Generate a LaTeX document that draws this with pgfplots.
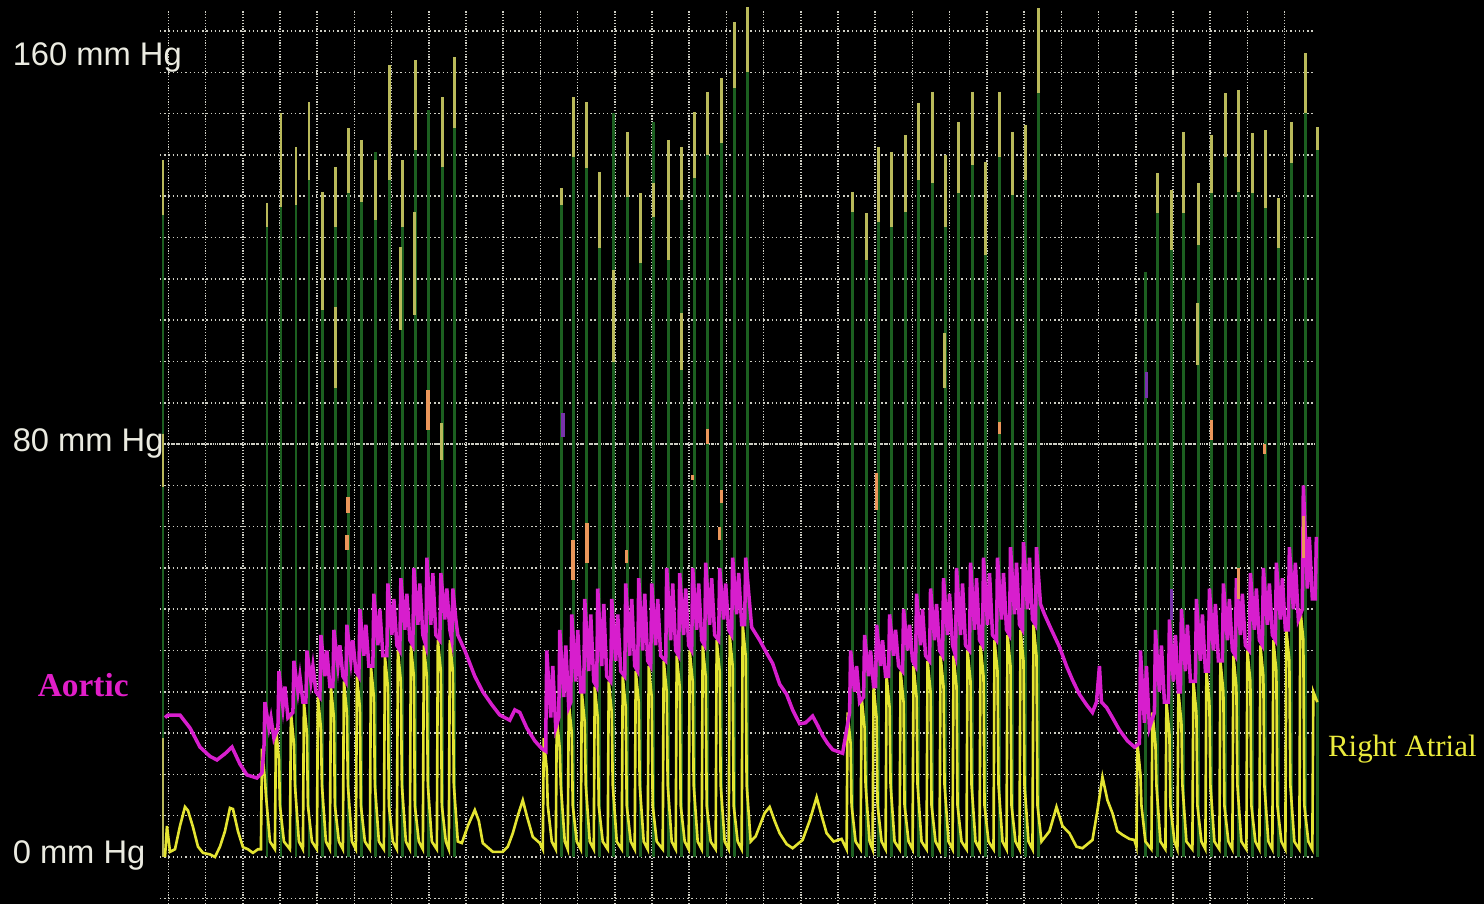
\documentclass[border=0pt]{standalone}
\usepackage{pgfplots}
\pgfplotsset{compat=1.18}
\usepackage{fontspec}
\setmainfont{Liberation Sans}
\newfontfamily\serif{Liberation Serif}
\definecolor{gridc}{RGB}{205,205,195}
\definecolor{spg}{RGB}{28,95,32}
\definecolor{olv}{RGB}{185,185,90}
\definecolor{ra}{RGB}{228,228,50}
\definecolor{ao}{RGB}{215,30,205}
\definecolor{org}{RGB}{235,150,90}
\definecolor{pur}{RGB}{120,50,170}
\definecolor{lblw}{RGB}{235,235,225}
\definecolor{aolbl}{RGB}{225,30,200}
\definecolor{ralbl}{RGB}{235,235,60}
\begin{document}
\begin{tikzpicture}
\fill[black] (-1.6,0) rectangle (13.24,9.04);
\begin{axis}[
  at={(0,0)}, anchor=south west,
  x=0.01cm, y=0.051625cm, scale only axis,
  xmin=160, xmax=1315, ymin=-9.104, ymax=164.07,
  axis line style={draw=none}, tick style={draw=none},
  xticklabels={}, yticklabels={},
  xtick={168.3,205.53,...,1286}, ytick={-8,0,...,160},
  grid=major,
  x grid style={gridc, line width=0.45pt, dash pattern=on 0.35pt off 0.45pt},
  y grid style={gridc, line width=0.45pt, dash pattern=on 0.4pt off 0.8pt},
  clip=false, unbounded coords=jump,
]
% denser 80 mmHg line
\addplot[gridc, line width=0.45pt, dash pattern=on 0.35pt off 0.3pt] coordinates {(160,80) (1315,80)};
% tall green spikes
\addplot[spg, line width=0.8pt] coordinates {
(163,0)(163,135)(163,nan)
(267,0)(267,126.7)(267,nan) (281,0)(281,144.1)(281,nan) (296,0)(296,137.5)(296,nan)
(309,0)(309,146.2)(309,nan) (323,0)(323,128.8)(323,nan) (336,0)(336,133.7)(336,nan)
(349,0)(349,141.2)(349,nan) (362,0)(362,138.9)(362,nan) (376,0)(376,136.6)(376,nan)
(390,0)(390,153.4)(390,nan) (403,0)(403,135.0)(403,nan) (416,0)(416,154.4)(416,nan)
(429,0)(429,144.7)(429,nan) (443,0)(443,147.2)(443,nan) (455,0)(455,155.0)(455,nan)
(562,0)(562,129.6)(562,nan) (574,0)(574,147.2)(574,nan) (587,0)(587,146.2)(587,nan)
(600,0)(600,132.7)(600,nan) (614,0)(614,144.1)(614,nan) (628,0)(628,140.4)(628,nan)
(641,0)(641,128.6)(641,nan) (654,0)(654,142.4)(654,nan) (669,0)(669,138.9)(669,nan)
(682,0)(682,137.5)(682,nan) (695,0)(695,144.3)(695,nan) (708,0)(708,148.2)(708,nan)
(722,0)(722,150.9)(722,nan) (735,0)(735,161.7)(735,nan) (748,0)(748,164.6)(748,nan)
(853,0)(853,128.8)(853,nan) (867,0)(867,124.7)(867,nan) (879,0)(879,137.5)(879,nan)
(892,0)(892,136.6)(892,nan) (906,0)(906,139.9)(906,nan) (919,0)(919,146.1)(919,nan)
(933,0)(933,148.2)(933,nan) (946,0)(946,136.0)(946,nan) (959,0)(959,142.4)(959,nan)
(973,0)(973,148.2)(973,nan) (986,0)(986,134.6)(986,nan) (1000,0)(1000,148.2)(1000,nan)
(1013,0)(1013,140.4)(1013,nan) (1026,0)(1026,141.8)(1026,nan) (1039,0)(1039,164.5)(1039,nan)
(1146,0)(1146,113.3)(1146,nan) (1158,0)(1158,132.5)(1158,nan) (1172,0)(1172,129.2)(1172,nan)
(1184,0)(1184,140.4)(1184,nan) (1199,0)(1199,130.6)(1199,nan) (1212,0)(1212,139.9)(1212,nan)
(1226,0)(1226,148.0)(1226,nan) (1239,0)(1239,148.6)(1239,nan) (1253,0)(1253,140.2)(1253,nan)
(1266,0)(1266,140.8)(1266,nan) (1279,0)(1279,127.7)(1279,nan) (1292,0)(1292,142.4)(1292,nan)
(1306,0)(1306,155.7)(1306,nan) (1318,0)(1318,141.4)(1318,nan)
};
% yellow-olive upper segments of the spikes
\addplot[olv, line width=0.8pt] coordinates {
(163,135)(163,124.4)(163,nan) (163,82)(163,71.7)(163,nan) (163,23)(163,0)(163,nan)
(267,126.7)(267,122.0)(267,nan) (281,144.1)(281,125.9)(281,nan) (296,137.5)(296,126.3)(296,nan)
(309,146.2)(309,131.1)(309,nan) (323,128.8)(323,106.0)(323,nan) (336,133.7)(336,122.0)(336,nan)
(336,106.5)(336,90.8)(336,nan) (349,141.2)(349,128.6)(349,nan) (362,138.9)(362,126.9)(362,nan)
(376,135.0)(376,123.4)(376,nan) (390,153.4)(390,131.1)(390,nan) (403,135.0)(403,122.0)(403,nan)
(401,118.2)(401,102.1)(401,nan) (416,154.4)(416,137.0)(416,nan) (415,124.9)(415,105.0)(415,nan)
(443,147.2)(443,133.7)(443,nan) (455,155.0)(455,141.2)(455,nan) (442,84)(442,77)(442,nan)
(562,129.6)(562,126.3)(562,nan) (574,147.2)(574,135.6)(574,nan) (587,146.2)(587,133.5)(587,nan)
(600,132.7)(600,118.0)(600,nan) (614,113.7)(614,95.9)(614,nan) (628,140.4)(628,127.8)(628,nan)
(641,128.6)(641,115.1)(641,nan) (654,130.6)(654,124.0)(654,nan) (669,138.9)(669,115.6)(669,nan)
(682,137.5)(682,127.3)(682,nan) (682,105.4)(682,94.3)(682,nan) (695,144.3)(695,131.5)(695,nan)
(708,148.2)(708,136.0)(708,nan) (722,150.9)(722,138.3)(722,nan) (735,161.7)(735,149.0)(735,nan)
(748,164.6)(748,152.1)(748,nan)
(853,128.8)(853,124.9)(853,nan) (867,124.7)(867,115.6)(867,nan) (879,137.5)(879,123.0)(879,nan)
(892,136.6)(892,122.0)(892,nan) (906,139.9)(906,124.9)(906,nan) (919,146.1)(919,131.1)(919,nan)
(933,148.2)(933,130.6)(933,nan) (946,136.0)(946,122.0)(946,nan) (945,101.5)(945,90.8)(945,nan)
(959,142.4)(959,128.6)(959,nan) (973,148.2)(973,134.0)(973,nan) (986,134.6)(986,116.6)(986,nan)
(1000,148.2)(1000,135.6)(1000,nan) (1013,140.4)(1013,128.2)(1013,nan) (1026,141.8)(1026,131.1)(1026,nan)
(1039,164.5)(1039,148.0)(1039,nan)
(1158,132.5)(1158,124.7)(1158,nan) (1172,129.2)(1172,117.6)(1172,nan) (1184,140.4)(1184,124.7)(1184,nan)
(1199,130.6)(1199,118.5)(1199,nan) (1198,107.3)(1198,95.3)(1198,nan) (1212,139.9)(1212,128.6)(1212,nan)
(1226,148.0)(1226,135.6)(1226,nan) (1239,148.6)(1239,128.8)(1239,nan) (1253,140.2)(1253,128.6)(1253,nan)
(1266,140.8)(1266,125.7)(1266,nan) (1279,127.7)(1279,118.0)(1279,nan) (1292,142.4)(1292,134.4)(1292,nan)
(1306,155.7)(1306,144.1)(1306,nan) (1318,141.4)(1318,137.0)(1318,nan)
};
% right atrial trace
\addplot[ra, line width=0.75pt] coordinates {
(165,0)(167,6)(170,1)(175,1.5)(180,6)(185,9.7)(188,9)(193,5.8)(198,2)(203,0.8)(210,0.5)(215,0)
(220,2)(225,5)(230,9.5)(233,9.3)(238,5)(243,1.9)(248,1.5)(253,0.8)(258,1.5)
(261,1.5)(262,21)(265,15)(266,12)(270,3) (275,1.5)(276,25)(279,19)(280,10)(284,3)
(290,1.5)(291,28)(294,22)(295,14)(299,3) (303,1.5)(304,30)(307,24)(308,10)(312,3)
(317,1.5)(318,31)(321,25)(322,14)(326,3) (330,1.5)(331,33)(334,27)(335,10)(339,3)
(343,1.5)(344,34)(347,28)(348,14)(352,3) (356,1.5)(357,35)(360,29)(361,10)(365,3)
(370,1.5)(371,37)(374,31)(375,14)(379,3) (384,1.5)(385,39)(388,33)(389,10)(393,3)
(397,1.5)(398,40)(401,34)(402,14)(406,3) (410,1.5)(411,41)(414,35)(415,10)(419,3)
(423,1.5)(424,41)(427,35)(428,14)(432,3) (437,1.5)(438,42)(441,36)(442,10)(446,3)
(449,1.5)(450,42)(453,36)(454,14)(458,3)
(462,2.7)(468,6)(475,9.1)(479,7)(483,2.7)(493,1)(503,1)(508,2)(513,4.6)(518,8)(523,11)(527,8)(533,3.9)(540,2.7)
(543,1.5)(544,23)(547,17)(548,10)(552,3) (556,1.5)(557,27)(560,21)(561,14)(565,3)
(568,1.5)(569,30)(572,24)(573,10)(577,3) (581,1.5)(582,32)(585,26)(586,14)(590,3)
(594,1.5)(595,33)(598,27)(599,10)(603,3) (608,1.5)(609,34)(612,28)(613,14)(617,3)
(622,1.5)(623,35)(626,29)(627,10)(631,3) (635,1.5)(636,36)(639,30)(640,14)(644,3)
(648,1.5)(649,37)(652,31)(653,10)(657,3) (663,1.5)(664,38)(667,32)(668,14)(672,3)
(676,1.5)(677,39)(680,33)(681,10)(685,3) (689,1.5)(690,40)(693,34)(694,14)(698,3)
(702,1.5)(703,41)(706,35)(707,10)(711,3) (716,1.5)(717,42)(720,36)(721,14)(725,3)
(729,1.5)(730,43)(733,37)(734,10)(738,3) (742,1.5)(743,45)(746,39)(747,14)(751,3)
(756,4)(760,6)(765,8.5)(770,9.7)(775,7)(780,4.6)(787,2.5)(793,1.7)(803,3.3)(810,7)(817,11.6)(822,8)(827,4.6)(834,3)(842,3.5)
(847,1.5)(848,28)(851,22)(852,10)(856,3) (861,1.5)(862,31)(865,25)(866,14)(870,3)
(873,1.5)(874,33)(877,27)(878,10)(882,3) (886,1.5)(887,35)(890,29)(891,14)(895,3)
(900,1.5)(901,36)(904,30)(905,10)(909,3) (913,1.5)(914,37)(917,31)(918,14)(922,3)
(927,1.5)(928,38)(931,32)(932,10)(936,3) (940,1.5)(941,39)(944,33)(945,14)(949,3)
(953,1.5)(954,39)(957,33)(958,10)(962,3) (967,1.5)(968,40)(971,34)(972,14)(976,3)
(980,1.5)(981,41)(984,35)(985,10)(989,3) (994,1.5)(995,42)(998,36)(999,14)(1003,3)
(1007,1.5)(1008,43)(1011,37)(1012,10)(1016,3) (1020,1.5)(1021,44)(1024,38)(1025,14)(1029,3)
(1033,1.5)(1034,45)(1037,39)(1038,10)(1042,3)
(1050,5)(1057,9.7)(1063,6)(1070,4.6)(1077,2)(1083,1.7)(1093,3.3)(1098,9)(1103,15.5)(1108,11)(1113,8.5)(1118,5)(1123,4.3)(1130,3.5)(1135,3.3)
(1137,2)(1138,22)(1141,16)(1142,10)(1146,3) (1152,1.5)(1153,28)(1156,22)(1157,14)(1161,3)
(1166,1.5)(1167,30)(1170,24)(1171,10)(1175,3) (1178,1.5)(1179,32)(1182,26)(1183,14)(1187,3)
(1193,1.5)(1194,34)(1197,28)(1198,10)(1202,3) (1206,1.5)(1207,36)(1210,30)(1211,14)(1215,3)
(1220,1.5)(1221,38)(1224,32)(1225,10)(1229,3) (1233,1.5)(1234,39)(1237,33)(1238,14)(1242,3)
(1247,1.5)(1248,40)(1251,34)(1252,10)(1256,3) (1260,1.5)(1261,41)(1264,35)(1265,14)(1269,3)
(1273,1.5)(1274,42)(1277,36)(1278,10)(1282,3) (1286,1.5)(1287,44)(1290,38)(1291,14)(1295,3)
(1300,1.5)(1301,48)(1304,42)(1305,10)(1309,3) (1313,1.5)(1314,32)(1318,30)
};
% aortic trace
\addplot[ao, line width=1.0pt] coordinates {
(165,27)(168,27.5)(180,27.5)(190,25)(200,21.3)(210,19.5)(217,18.8)(225,20)(232,21.3)(240,18)(247,15.9)(257,15.3)(262,16.3)
(264,21)(265,30)(269,25)(271,27)(274,23) (278,25)(279,36)(283,29)(285,33)(288,27)
(293,28)(294,38)(298,32)(300,35)(303,30) (306,30)(307,40)(311,34)(313,37)(316,32)
(320,31)(321,43)(325,35)(327,40)(330,33) (333,33)(334,44)(338,37)(340,41)(343,35)
(346,34)(347,45)(351,38)(353,42)(356,36) (359,35)(360,48)(364,39)(366,45)(369,37)
(373,37)(374,51)(378,41)(380,48)(383,39) (387,39)(388,53)(392,43)(394,50)(397,41)
(400,40)(401,54)(405,44)(407,51)(410,42) (413,41)(414,56)(418,45)(420,53)(423,43)
(426,41)(427,58)(431,45)(433,55)(436,43) (440,42)(441,55)(445,46)(447,52)(450,44)
(452,42)(453,52)(456,46)
(458,43)(465,40)(475,35)(483,32)(492,29.5)(500,27.5)(510,26.5)(515,28.5)(520,28)(527,25)(535,22.5)(542,21)(546,20.5)
(546,23)(547,40)(551,27)(553,37)(556,25) (559,27)(560,44)(564,31)(566,41)(569,29)
(571,30)(572,47)(576,34)(578,44)(581,32) (584,32)(585,50)(589,36)(591,47)(594,34)
(597,33)(598,52)(602,37)(604,49)(607,35) (611,34)(612,50)(616,38)(618,47)(621,36)
(625,35)(626,53)(630,39)(632,50)(635,37) (638,36)(639,54)(643,40)(645,51)(648,38)
(651,37)(652,53)(656,41)(658,50)(661,39) (666,38)(667,56)(671,42)(673,53)(676,40)
(679,39)(680,55)(684,43)(686,52)(689,41) (692,40)(693,56)(697,44)(699,53)(702,42)
(705,41)(706,57)(710,45)(712,54)(715,43) (719,42)(720,56)(724,46)(726,53)(729,44)
(732,43)(733,58)(737,47)(739,55)(742,45) (745,45)(746,58)(750,49)
(752,44.5)(760,42)(767,39.5)(773,37.5)(780,33.5)(787,31.5)(793,28.5)(800,25.8)(806,26)(813,27.3)(818,25.5)(823,23.5)(828,22)(833,20.8)(843,20.1)
(850,28)(851,40)(855,32)(857,37)(860,30) (864,31)(865,43)(869,35)(871,40)(874,33)
(876,33)(877,45)(881,37)(883,42)(886,35) (889,35)(890,47)(894,39)(896,44)(899,37)
(903,36)(904,48)(908,40)(910,45)(913,38) (916,37)(917,51)(921,41)(923,48)(926,39)
(930,38)(931,52)(935,42)(937,49)(940,40) (943,39)(944,54)(948,43)(950,51)(953,41)
(956,39)(957,56)(961,43)(963,53)(966,41) (970,40)(971,57)(975,44)(977,54)(980,42)
(983,41)(984,58)(988,45)(990,55)(993,43) (997,42)(998,58)(1002,46)(1004,55)(1007,44)
(1010,43)(1011,60)(1015,47)(1017,57)(1020,45) (1023,44)(1024,61)(1028,48)(1030,58)(1033,46)
(1036,45)(1037,60)(1041,49)
(1045,47)(1052,44)(1060,40.7)(1067,37)(1073,34.3)(1080,31.5)(1087,29.5)(1093,28)(1097,30)(1100,37)(1102,30)(1107,29)(1113,27)(1120,24.6)(1128,22.5)(1135,21.3)(1140,22)
(1141,40)(1145,26)(1147,37)(1150,25) (1155,28)(1156,44)(1160,32)(1162,41)(1165,30)
(1169,30)(1170,46)(1174,34)(1176,43)(1179,32) (1181,32)(1182,48)(1186,36)(1188,45)(1191,34)
(1196,34)(1197,50)(1201,38)(1203,47)(1206,36) (1209,36)(1210,52)(1214,40)(1216,49)(1219,38)
(1223,38)(1224,53)(1228,42)(1230,50)(1233,40) (1236,39)(1237,54)(1241,43)(1243,51)(1246,41)
(1250,40)(1251,55)(1255,44)(1257,52)(1260,42) (1263,41)(1264,56)(1268,45)(1270,53)(1273,43)
(1276,42)(1277,57)(1281,46)(1283,54)(1286,44) (1289,44)(1290,60)(1294,48)(1296,57)(1299,46)
(1303,48)(1304,72)(1308,52)(1310,62)(1313,50) (1316,50)(1317,62)
};
% orange marks
\addplot[org, line width=1.0pt] coordinates {
(347,62.4)(347,59.5)(347,nan) (348,69.7)(348,66.6)(348,nan) (428,90.5)(428,82.7)(428,nan)
(573,61.4)(573,53.7)(573,nan) (587,64.7)(587,57)(587,nan) (627,59.5)(627,57)(627,nan)
(693,74)(693,73)(693,nan) (708,83)(708,80)(708,nan) (720,64)(720,61.4)(720,nan) (722,71)(722,68.6)(722,nan)
(877,74.4)(877,67.2)(877,nan) (1000,84.3)(1000,82)(1000,nan) (1212,84.6)(1212,80.8)(1212,nan)
(1265,80)(1265,78)(1265,nan) (1304,66)(1304,58)(1304,nan) (1239,56)(1239,50)(1239,nan)
};
% purple marks
\addplot[pur, line width=1.0pt] coordinates {
(563,86.0)(563,81.4)(563,nan) (1147,94)(1147,89)(1147,nan) (1172,52)(1172,46)(1172,nan)
};
% labels
\node[anchor=base west, inner sep=0, text=lblw, font=\fontsize{9.3}{11}\selectfont] at (axis cs:12,153.4) {160 mm Hg};
\node[anchor=base west, inner sep=0, text=lblw, font=\fontsize{9.3}{11}\selectfont] at (axis cs:12,78.5) {80 mm Hg};
\node[anchor=base west, inner sep=0, text=lblw, font=\fontsize{9.3}{11}\selectfont] at (axis cs:12,-1.2) {0 mm Hg};
\node[anchor=base west, inner sep=0, text=aolbl, font=\serif\bfseries\fontsize{9.5}{11}\selectfont] at (axis cs:37,31.0) {Aortic};
\node[anchor=base west, inner sep=0, text=ralbl, font=\serif\fontsize{8.8}{10}\selectfont] at (axis cs:1328,19.4) {Right Atrial};
\end{axis}
\pgfresetboundingbox
\useasboundingbox (-1.6,0) rectangle (13.24,9.04);
\end{tikzpicture}
\end{document}
